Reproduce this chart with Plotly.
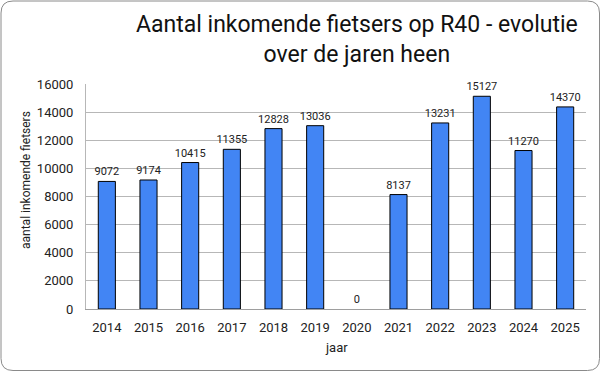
import plotly.graph_objects as go

years = ["2014", "2015", "2016", "2017", "2018", "2019", "2020", "2021", "2022", "2023", "2024", "2025"]
counts = [9072, 9174, 10415, 11355, 12828, 13036, 0, 8137, 13231, 15127, 11270, 14370]
y_ticks = [0, 2000, 4000, 6000, 8000, 10000, 12000, 14000, 16000]

W, H = 601, 372
ML, MR, MT, MB = 86, 15, 84, 63
PW, PH = W - ML - MR, H - MT - MB

def px(x):
    return (x - ML) / PW

def py(y):
    return (H - MB - y) / PH

fig = go.Figure(go.Bar(
    x=years, y=counts,
    marker=dict(color="#4285F4",
                line=dict(color="#000000", width=[1 if v > 0 else 0 for v in counts])),
    text=[str(v) for v in counts], textposition="outside", constraintext="none",
    textfont=dict(family="Roboto", size=11, color="#222222"),
    cliponaxis=False, width=0.41,
))

# rounded border
x0, x1, y0, y1, r = 1, 599.5, 1, 370.5, 12
path = (f"M {px(x0+r)},{py(y0)} L {px(x1-r)},{py(y0)} Q {px(x1)},{py(y0)} {px(x1)},{py(y0+r)} "
        f"L {px(x1)},{py(y1-r)} Q {px(x1)},{py(y1)} {px(x1-r)},{py(y1)} "
        f"L {px(x0+r)},{py(y1)} Q {px(x0)},{py(y1)} {px(x0)},{py(y1-r)} "
        f"L {px(x0)},{py(y0+r)} Q {px(x0)},{py(y0)} {px(x0+r)},{py(y0)} Z")

fig.update_layout(
    width=W, height=H,
    margin=dict(l=ML, r=MR, t=MT, b=MB, autoexpand=False),
    paper_bgcolor="white", plot_bgcolor="white",
    showlegend=False,
    font=dict(family="Roboto", color="#222222"),
    shapes=[dict(type="path", xref="paper", yref="paper", path=path,
                 line=dict(color="#8a8a8a", width=1), layer="below")],
    annotations=[
        dict(text="Aantal inkomende fietsers op R40 - evolutie<br>over de jaren heen",
             xref="paper", yref="paper", x=px(357), y=py(39), xanchor="center", yanchor="middle",
             showarrow=False, font=dict(family="Roboto", size=23, color="#111111")),
        dict(text="aantal inkomende fietsers", textangle=-90,
             xref="paper", yref="paper", x=px(26), y=py(180), xanchor="center", yanchor="middle",
             showarrow=False, font=dict(family="Roboto", size=12, color="#222222")),
        dict(text="jaar",
             xref="paper", yref="paper", x=px(336), y=py(347), xanchor="center", yanchor="middle",
             showarrow=False, font=dict(family="Roboto", size=13, color="#222222")),
    ],
    xaxis=dict(tickfont=dict(size=13, color="#222222"), showline=True, linecolor="#9e9e9e",
               ticks="", showgrid=False, automargin=False, ticklabelstandoff=6),
    yaxis=dict(range=[0, 16000], tickvals=y_ticks, ticktext=[str(v) for v in y_ticks],
               tickfont=dict(size=13, color="#222222"), showgrid=True, gridcolor="#b7b7b7",
               showline=True, linecolor="#b7b7b7", zeroline=False, ticks="", automargin=False,
               ticklabelstandoff=9),
)

fig.write_html("out.html", config={"displayModeBar": False},
               post_script="document.body.style.margin='0';document.body.style.overflow='hidden';")
